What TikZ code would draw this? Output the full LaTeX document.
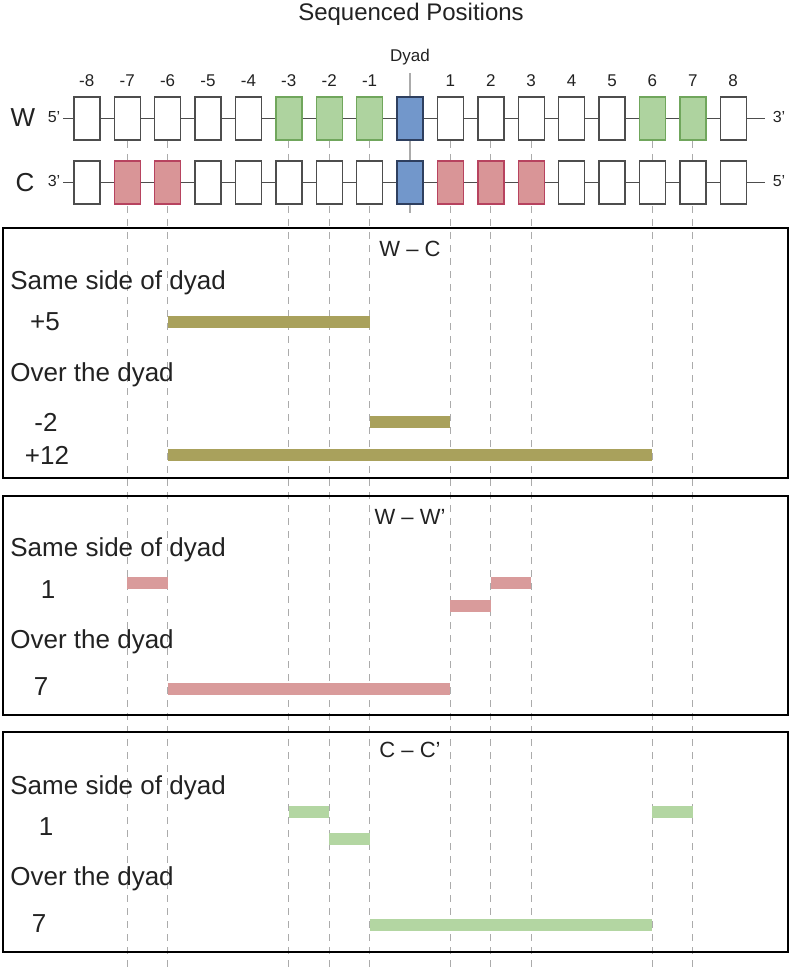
\documentclass[tikz,border=0pt]{standalone}
\usepackage{fontspec}
\setmainfont{Liberation Sans}
\usetikzlibrary{positioning}
\definecolor{sqink}{HTML}{222222}
\definecolor{sqgray}{HTML}{4D4D4D}
\definecolor{sqguide}{HTML}{ABABAB}
\definecolor{sqgreen}{HTML}{AED39F}
\definecolor{sqgreenline}{HTML}{70A65C}
\definecolor{sqred}{HTML}{D99597}
\definecolor{sqredline}{HTML}{B7435F}
\definecolor{sqblue}{HTML}{7297CB}
\definecolor{sqblueline}{HTML}{2E3F5F}
\definecolor{sqolive}{HTML}{A9A15C}
\definecolor{sqpink}{HTML}{D99B9B}
\definecolor{sqmint}{HTML}{B3D6A2}

\begin{document}
\begin{tikzpicture}[x=0.5pt,y=-0.5pt,
  every node/.style={font=\fontsize{13}{15}\selectfont,text=sqink},
  base/.style={draw=sqgray,line width=0.7pt,fill=white,minimum width=13pt,minimum height=21.5pt,inner sep=0pt},
  wmark/.style={base,draw=sqgreenline,fill=sqgreen},
  cmark/.style={base,draw=sqredline,fill=sqred},
  dyadbox/.style={base,draw=sqblueline,fill=sqblue},
  strand/.style={draw=sqgray,line width=0.7pt},
  guide/.style={draw=sqguide,line width=0.5pt,dash pattern=on 3.5pt off 3pt},
  panel/.style={draw=black,line width=1pt},
  sidetext/.style={anchor=west,inner sep=0pt},
  num/.style={font=\fontsize{8.5}{10}\selectfont},
  endtext/.style={font=\fontsize{8}{10}\selectfont},
  ptitle/.style={font=\fontsize{11}{13}\selectfont},
  wcbar/.style={draw=sqolive,line width=6pt},
  wwbar/.style={draw=sqpink,line width=6pt},
  ccbar/.style={draw=sqmint,line width=6pt}
]
\useasboundingbox (0,0) rectangle (793,968);
\foreach \i in {-7,-6,-3,-2,-1,1,2,3,6,7}
  \draw[guide] ({410+40.4*\i},141) -- ({410+40.4*\i},968);
\draw[draw=sqguide,line width=0.6pt] (410,73) -- (410,213);

\node[font=\fontsize{12}{14}\selectfont] (title) at (411,14) {Sequenced Positions};
\node[num] (dyad) at (410,57) {Dyad};
\foreach \i in {-8,...,-1}
  \node[num] (n\i) at ({410+40.4*\i},81) {\i};
\foreach \i in {1,...,8}
  \node[num] (n\i) at ({410+40.4*\i},81) {\i};

\foreach \i/\s in {-8/base,-7/base,-6/base,-5/base,-4/base,-3/wmark,-2/wmark,-1/wmark,0/dyadbox,
                   1/base,2/base,3/base,4/base,5/base,6/wmark,7/wmark,8/base}
  \node[\s] (w\i) at ({410+40.4*\i},118.5) {};
\foreach \i/\s in {-8/base,-7/cmark,-6/cmark,-5/base,-4/base,-3/base,-2/base,-1/base,0/dyadbox,
                   1/cmark,2/cmark,3/cmark,4/base,5/base,6/base,7/base,8/base}
  \node[\s] (c\i) at ({410+40.4*\i},182.5) {};
\foreach \i [evaluate=\i as \j using int(\i+1)] in {-8,...,7} {
  \draw[strand] (w\i) -- (w\j);
  \draw[strand] (c\i) -- (c\j);
}
\coordinate (wleft) at (63,118.5);
\coordinate (wright) at (765,118.5);
\coordinate (cleft) at (63,182.5);
\coordinate (cright) at (765,182.5);
\draw[strand] (wleft) -- (w-8);
\draw[strand] (w8) -- (wright);
\draw[strand] (cleft) -- (c-8);
\draw[strand] (c8) -- (cright);
\node (wname) at (23,118) {W};
\node (cname) at (25,183) {C};
\node[endtext] (wend5) at (54,117) {5’};
\node[endtext] (wend3) at (779,117) {3’};
\node[endtext] (cend3) at (54,181) {3’};
\node[endtext] (cend5) at (779,181) {5’};

\draw[panel] (3,228) rectangle (788,478);
\node[ptitle] (wc) at (410,249) {W – C};
\node[sidetext] (wcsame) at (10,283) {Same side of dyad};
\node (wc5) at (45,322) {+5};
\node[sidetext] (wcover) at (10,375) {Over the dyad};
\node (wc2) at (46,422) {-2};
\node (wc12) at (47,455) {+12};
\draw[wcbar] (w-6 |- 0,322) -- (w-1 |- 0,322);
\draw[wcbar] (w-1 |- 0,422) -- (w1 |- 0,422);
\draw[wcbar] (w-6 |- 0,455) -- (w6 |- 0,455);

\draw[panel] (3,496) rectangle (788,715);
\node[ptitle] (ww) at (410,517) {W – W’};
\node[sidetext] (wwsame) at (10,550) {Same side of dyad};
\node (ww1) at (48,590) {1};
\node[sidetext] (wwover) at (10,642) {Over the dyad};
\node (ww7) at (41,687) {7};
\draw[wwbar] (w-7 |- 0,583) -- (w-6 |- 0,583);
\draw[wwbar] (w1 |- 0,606) -- (w2 |- 0,606);
\draw[wwbar] (w2 |- 0,583) -- (w3 |- 0,583);
\draw[wwbar] (w-6 |- 0,689) -- (w1 |- 0,689);

\draw[panel] (3,732) rectangle (788,952);
\node[ptitle] (cc) at (410,750) {C – C’};
\node[sidetext] (ccsame) at (10,788) {Same side of dyad};
\node (cc1) at (46,827) {1};
\node[sidetext] (ccover) at (10,879) {Over the dyad};
\node (cc7) at (39,924) {7};
\draw[ccbar] (c-3 |- 0,812) -- (c-2 |- 0,812);
\draw[ccbar] (c-2 |- 0,839) -- (c-1 |- 0,839);
\draw[ccbar] (c6 |- 0,812) -- (c7 |- 0,812);
\draw[ccbar] (c-1 |- 0,925) -- (c6 |- 0,925);
\end{tikzpicture}
\end{document}
